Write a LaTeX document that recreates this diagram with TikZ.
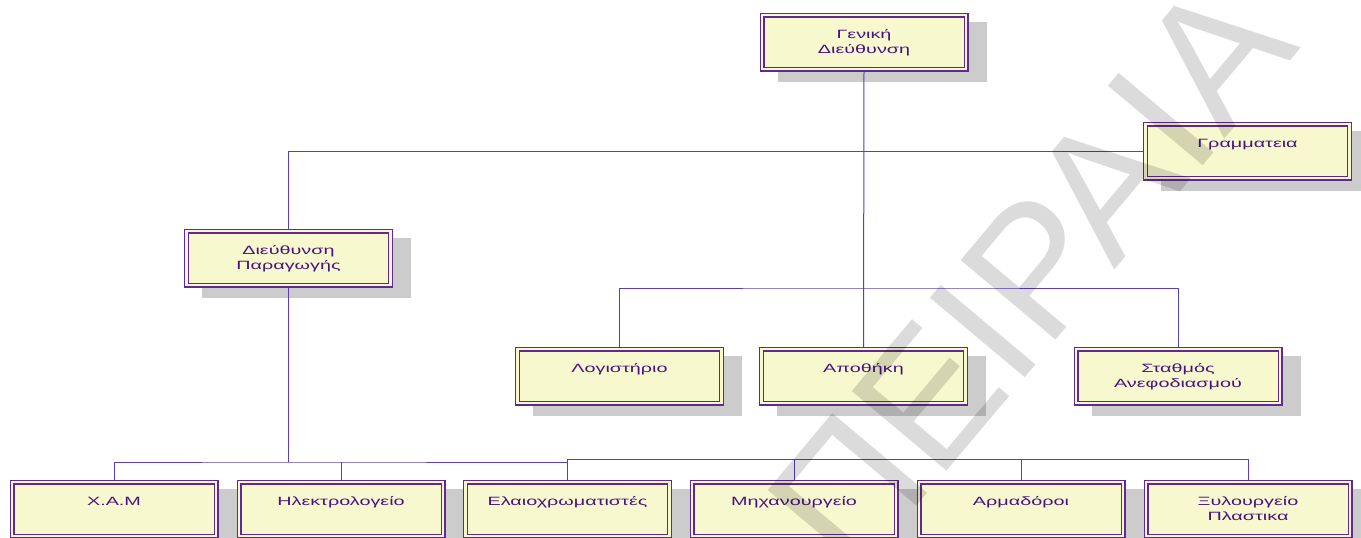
\documentclass[tikz,border=0pt]{standalone}
\usepackage{fontspec}
\setmainfont{Liberation Sans}
\newfontfamily\lblfont[FakeStretch=1.65]{Liberation Sans}
\definecolor{boxfill}{RGB}{248,248,206}
\definecolor{bord}{RGB}{100,40,150}
\definecolor{connc}{RGB}{90,60,190}
\definecolor{txtc}{RGB}{70,20,130}
\definecolor{shadc}{RGB}{204,204,204}
\pgfdeclarelayer{shadowlayer}
\pgfdeclarelayer{lineslayer}
\pgfdeclarelayer{wmlayer}
\pgfsetlayers{shadowlayer,lineslayer,main,wmlayer}
\newcommand\mlines[1]{\vtop{\baselineskip=15pt\lineskiplimit=-20pt\halign{\hfil##\hfil\cr#1\crcr}}}
\newcommand\obox[4]{%
  \node[boxst] (#1) at (#2,#3) {};
  \node[txtst] (#1-t) at ([yshift=-23.5pt]#1.north) {\mlines{#4}};
  \begin{pgfonlayer}{shadowlayer}
    \node[shadowst] (#1-s) at ([xshift=18pt,yshift=-10pt]#1.center) {};
  \end{pgfonlayer}%
}
\tikzset{
  boxst/.style={draw=bord, line width=1.4pt, double=boxfill, double distance=2.2pt,
    fill=boxfill, minimum width=204pt, minimum height=54pt, inner sep=0pt, outer sep=0pt},
  shadowst/.style={fill=shadc, draw=none, minimum width=209pt, minimum height=60pt, inner sep=0pt},
  txtst/.style={anchor=base, inner sep=0pt, text=txtc, font=\lblfont\fontsize{12}{15}\selectfont},
  conn/.style={draw=connc, line width=1pt},
  wm/.style={rotate=50, inner sep=0pt, text=black, opacity=0.14, font=\fontsize{180}{180}\selectfont}
}
\begin{document}
\begin{tikzpicture}[x=1pt,y=-1pt]
\useasboundingbox (0,0) rectangle (1361,538);
\clip (0,0) rectangle (1361,538);
\obox{gd}{864}{42}{Γενική\cr Διεύθυνση}
\obox{gram}{1247.5}{151}{Γραμματεια}
\obox{dp}{288.5}{258}{Διεύθυνση\cr Παραγωγής}
\obox{log}{619.5}{376}{Λογιστήριο}
\obox{apo}{863.5}{376}{Αποθήκη}
\obox{stath}{1178}{376}{Σταθμός\cr Ανεφοδιασμού}
\obox{xam}{114}{509}{Χ.Α.Μ}
\obox{ilek}{341}{509}{Ηλεκτρολογείο}
\obox{elaio}{567.5}{509}{Ελαιοχρωματιστές}
\obox{mix}{794}{509}{Μηχανουργείο}
\obox{arm}{1021}{509}{Αρμαδόροι}
\obox{xyl}{1248}{509}{Ξυλουργείο\cr Πλαστικα}
\coordinate (busm) at (864,288);
\coordinate (busb) at (288.5,462);
\coordinate (busr) at (567.5,459);
\begin{pgfonlayer}{lineslayer}
\draw[conn] (gd.south) -- (apo.north);
\draw[conn] (dp.north) |- (gram.west);
\draw[conn] (log.north) |- (busm) -| (stath.north);
\draw[conn] (dp.south) -- (busb);
\draw[conn] (xam.north) |- (busb) -| (elaio.north);
\draw[conn] (ilek.north) -- (ilek.north |- busb);
\draw[conn] (elaio.north) -- (busr) -| (xyl.north);
\draw[conn] (mix.north) -- (mix.north |- busr);
\draw[conn] (arm.north) -- (arm.north |- busr);
\end{pgfonlayer}
\begin{pgfonlayer}{wmlayer}
\node[wm] (wmk) at (1030,275) {ΠΕΙΡΑΙΑ};
\end{pgfonlayer}
\end{tikzpicture}
\end{document}
